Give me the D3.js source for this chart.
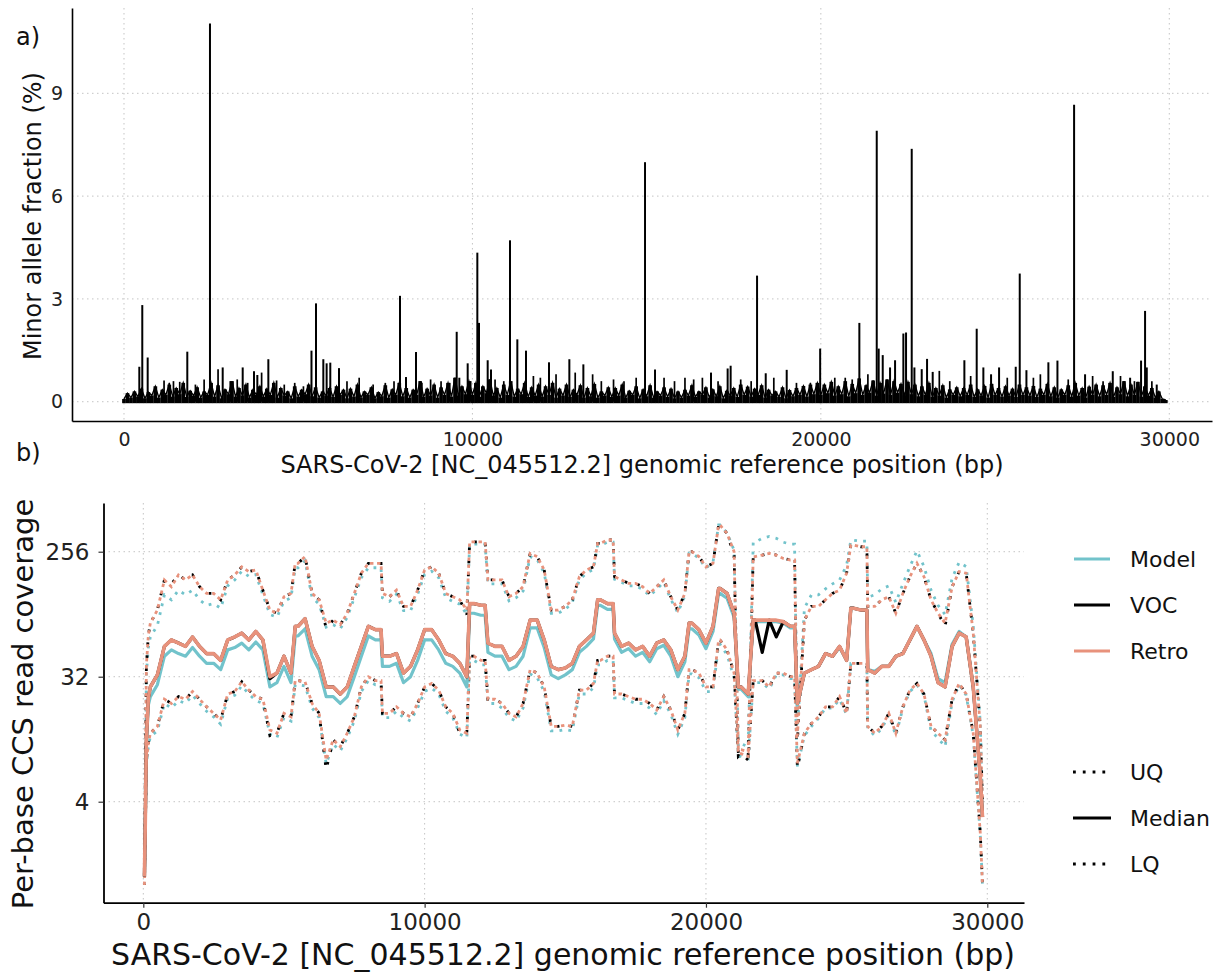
<!DOCTYPE html>
<html><head><meta charset="utf-8">
<script src="https://cdn.jsdelivr.net/npm/d3@7"></script>
<style>
body{margin:0;background:#fff;}
svg{display:block;font-family:"DejaVu Sans",sans-serif;}
</style></head><body>
<svg id="c" width="1215" height="976"></svg>
<script>
// ---------------- Panel a data ----------------
const mafXTicks = [0, 10000, 20000, 30000];
const mafYTicks = [0, 3, 6, 9];
// background minor allele fraction (%) every 100 bp from 0 bp
const mafBackground = [
 0.08,0.25,0.12,0.3,0.15,0.38,0.1,0.28,0.18,0.45,0.12,0.35,0.2,0.5,0.15,0.4,0.22,0.55,0.14,0.32,
 0.18,0.42,0.12,0.3,0.2,0.55,0.15,0.48,0.1,0.36,0.22,0.6,0.15,0.4,0.18,0.5,0.12,0.35,0.2,0.45,
 0.15,0.38,0.2,0.55,0.12,0.4,0.18,0.3,0.1,0.45,0.15,0.35,0.22,0.5,0.16,0.42,0.12,0.3,0.18,0.4,
 0.14,0.45,0.2,0.35,0.1,0.38,0.15,0.5,0.12,0.3,0.2,0.42,0.1,0.28,0.16,0.48,0.12,0.36,0.2,0.55,
 0.16,0.4,0.12,0.35,0.2,0.6,0.14,0.38,0.18,0.5,0.12,0.42,0.2,0.55,0.15,0.7,0.18,0.45,0.22,0.6,
 0.2,0.55,0.15,0.45,0.25,0.65,0.18,0.4,0.12,0.5,0.2,0.6,0.15,0.38,0.22,0.55,0.14,0.42,0.18,0.5,
 0.15,0.45,0.2,0.55,0.12,0.38,0.18,0.5,0.14,0.35,0.2,0.48,0.12,0.4,0.16,0.52,0.12,0.3,0.18,0.42,
 0.14,0.4,0.18,0.5,0.12,0.32,0.2,0.45,0.1,0.36,0.16,0.48,0.12,0.3,0.18,0.42,0.14,0.38,0.1,0.3,
 0.12,0.35,0.18,0.48,0.14,0.3,0.2,0.42,0.12,0.36,0.16,0.45,0.1,0.32,0.18,0.4,0.14,0.5,0.2,0.44,
 0.15,0.38,0.2,0.48,0.12,0.35,0.18,0.3,0.14,0.42,0.1,0.34,0.16,0.4,0.2,0.46,0.15,0.5,0.22,0.55,
 0.2,0.5,0.25,0.58,0.18,0.45,0.22,0.6,0.16,0.52,0.25,0.68,0.2,0.48,0.26,0.62,0.18,0.55,0.24,0.65,
 0.2,0.6,0.26,0.52,0.18,0.58,0.22,0.5,0.16,0.45,0.2,0.55,0.14,0.4,0.18,0.48,0.12,0.36,0.2,0.42,
 0.16,0.4,0.2,0.5,0.14,0.36,0.18,0.46,0.12,0.52,0.2,0.4,0.15,0.45,0.18,0.38,0.14,0.5,0.2,0.42,
 0.18,0.46,0.14,0.38,0.2,0.52,0.16,0.42,0.12,0.36,0.2,0.48,0.15,0.55,0.18,0.4,0.12,0.44,0.2,0.5,
 0.16,0.48,0.2,0.55,0.14,0.42,0.22,0.6,0.16,0.5,0.2,0.58,0.15,0.45,0.18,0.4,0.12,0.3,0.08,0.05
];
const mafBackgroundPos = d3.range(0, 30000, 100);
// [position, minor allele fraction %] – visible peaks
const mafSpikes = [
 [440,1.02],[525,2.82],[680,1.29],[1817,1.46],[2468,11.04],[2833,1.0],[3407,1.0],[3731,0.89],[3827,0.78],
 [4143,1.24],[5381,1.49],[5511,2.87],[5721,1.24],[5816,1.12],[5921,1.14],[6171,0.98],[7922,3.09],[8094,0.72],
 [8381,1.45],[9549,2.04],[9624,0.7],[9864,1.12],[10141,4.35],[10189,2.3],[10438,1.21],[10534,0.94],[11079,4.71],
 [11289,1.82],[11538,1.49],[12198,1.15],[12782,1.24],[13184,1.09],[14954,6.99],[15241,0.94],[16848,0.85],
 [17325,0.97],[17411,1.05],[18169,3.68],[18418,0.83],[19020,0.93],[19980,1.55],[21105,2.3],[21604,7.91],
 [21660,1.55],[21776,1.36],[21986,1.0],[22130,1.21],[22368,1.99],[22445,2.02],[22608,7.38],[22685,1.0],
 [22895,0.95],[23048,1.25],[23210,0.87],[24119,1.21],[24473,2.13],[24664,1.0],[24885,0.8],[25115,1.0],
 [25593,1.02],[25708,3.74],[25900,0.92],[26530,1.15],[26790,1.2],[27268,8.67],[27583,0.8],[28378,0.89],
 [28876,0.7],[29190,1.2],[29305,2.65],[29354,1.0],[29640,0.5]
];
// smaller needles above the noise band
const mafSmallSpikes = [
 [1150,0.62],[1300,0.55],[1420,0.6],[1600,0.58],[2050,0.5],[2300,0.65],[2700,0.95],[3050,0.6],[3250,0.65],
 [3550,0.55],[3950,0.85],[4380,0.62],[4600,0.5],[4900,0.55],[5150,0.45],[6400,0.6],[6750,0.7],[7150,0.5],
 [7500,0.55],[7750,0.6],[8550,0.55],[8800,0.65],[9100,0.6],[9350,0.55],[9950,0.6],[10650,0.65],[10900,0.6],
 [11750,0.75],[11950,0.7],[12400,0.8],[12950,0.85],[13450,0.8],[13700,0.6],[14050,0.65],[14350,0.6],[14700,0.7],
 [15500,0.7],[15800,0.6],[16100,0.7],[16350,0.65],[16600,0.7],[17050,0.6],[17700,0.65],[18000,0.6],[18650,0.7],
 [19300,0.55],[19700,0.55],[20400,0.7],[20700,0.7],[20900,0.65],[21350,0.8],[23400,0.9],[23700,0.6],[24300,0.75],
 [25350,0.7],[26100,0.7],[26300,0.8],[27100,0.65],[27800,0.75],[28100,0.6],[28600,0.75],[29000,0.6],[29500,0.6]
];

// ---------------- Panel b data ----------------
const covXTicks = [0, 10000, 20000, 30000];
const covYTicks = [4, 32, 256];
const covPos = [40, 70, 110, 180, ...d3.range(250, 30000, 250), 29830];

const retroMedian = [1.15,2.8,11.3,22.6,
 27,33,53,59,56,53,62,53,47,47,42,59,62,66,59,68,
 59,32,34,45,34,74,84,53,42,27,27,24,27,38,53,74,
 70,45,45,47,34,38,50,70,70,59,47,45,40,32,108,105,
 56,53,53,42,45,53,82,82,59,38,36,37,40,53,59,66,
 115,108,66,53,56,50,53,45,56,59,50,36,45,78,70,56,
 74,139,128,92,27,24,82,82,82,82,80,74,20.5,34,36,38,
 47,45,53,42,100,97,36,34,38,38,45,47,59,74,59,45,
 29,27,53,66,62,27,6.1,
 3.1];
const retroUQ = [1.41,5.7,39,64,
 78,97,160,143,174,160,174,143,128,128,115,160,174,199,184,189,
 135,97,92,121,128,211,236,128,115,78,82,76,92,128,179,211,
 211,128,121,135,103,103,135,189,199,179,128,121,115,97,302,302,
 160,160,160,121,128,143,249,236,189,97,97,103,115,169,189,199,
 294,311,169,160,151,151,143,128,143,160,121,97,128,256,236,199,
 211,399,347,256,9.5,9.2,236,242,249,242,229,223,12,82,103,103,
 115,128,135,179,286,278,103,103,115,121,92,128,169,211,169,115,
 92,78,143,184,179,66,14,
 4];
const retroLQ = [1.0,2.3,8,10.6,
 12.5,14,22,20.5,23,22,25,22,19.4,17.4,15.6,24,25,29.4,25.6,23,
 22,13.2,12.5,17.4,16.4,30,29.4,20.5,17.4,8,11.2,10,12.5,16.4,27,32,
 30,17.4,17.4,19.4,17.4,16.4,20.5,27,28.6,25.6,19.4,17.4,13.2,12.5,45,42,
 22,22,20.5,17.4,16.4,20.5,36,34,27,14,14,14.3,14,25.6,25.6,28.6,
 42,45,24,24,23,22,22,20.5,18.4,23,18.4,13.2,17.4,36,34,27,
 27,59,50,34,8.9,8.5,30,30,27,34,34,32,7.6,12.5,14.7,16.4,
 19.4,19.4,23,17.4,40,40,14,12.5,14,17.4,12.5,19.4,25.6,28.6,24,14,
 12.5,11.2,22,28.6,24,12.5,2.4,
 1.0];

const modelMedian = [1.15,2.7,10.5,20,
 23,28,45,50,47,45,52,45,40,40,36,50,52,56,50,57,
 50,27,29,38,29,63,71,45,36,23,23,20.5,23,32,45,63,
 59,38,38,40,29,32,42,59,59,50,40,38,34,27,92,89,
 48,45,45,36,38,45,72,72,52,33,31,33,36,48,53,60,
 105,98,60,48,51,45,48,41,51,54,45,32,41,71,64,51,
 68,128,118,86,26,23,80,80,80,80,78,72,20,34,36,38,
 47,45,52,42,100,97,36,35,38,38,45,47,59,74,59,47,
 31,29,55,68,62,27,6.1,
 3.1];
const modelUQ = [1.41,5.5,34,52,
 62,75,125,115,135,125,135,115,105,108,100,145,160,185,170,175,
 125,90,86,112,119,196,220,119,107,73,76,71,86,119,166,196,
 196,119,112,126,96,96,126,176,185,166,119,112,107,90,290,290,
 150,150,150,113,119,133,236,225,180,92,92,98,110,160,180,190,
 285,300,162,154,145,145,137,123,137,154,116,93,123,250,230,195,
 215,400,350,262,10.5,10,300,320,330,320,300,290,13,100,125,125,
 138,150,160,205,310,305,120,125,138,145,110,150,200,260,200,135,
 105,90,165,215,200,75,15,
 4];
const modelLQ = [1.0,2.2,7.5,10,
 11.8,13,20.5,19,21.5,20.5,23.5,20.5,18,16.4,14.5,22.5,23.5,27.5,24,21.5,
 20.5,12.3,11.6,16.2,15.3,28,27.5,19,16.2,7.5,10.4,9.3,11.6,15.3,25,30,
 28,16.2,16.2,18,16.2,15.3,19,25,26.5,24,18,16.2,12.3,11.6,42,39,
 20.5,20.5,19,16.2,15.3,19,33.5,31.5,25,13,13,13.3,13,24,24,26.5,
 39,42,22.5,22.5,21.5,20.5,20.5,19,17.1,21.5,17.1,12.3,16.2,33.5,31.5,25,
 25,55,46,31.5,8.5,8.2,29,29,26,33,33,31,7.2,12,14,16,
 19,19,22,17,40,40,13.5,12,13.5,17,12,19,25,28,23.5,13,
 11.5,10,21,28,23.5,12,2.3,
 1.0];

const vocMedian = [1.15,2.8,11.3,22.6,
 27,33,53,59,56,53,62,53,47,47,42,59,62,66,59,68,
 59,31,34,45,34,74,84,53,42,27,27,24,27,38,53,74,
 70,45,45,47,34,38,50,70,70,59,47,45,40,32,108,105,
 56,53,53,42,45,53,82,82,59,38,36,37,40,53,59,66,
 115,108,66,53,56,50,53,45,56,59,50,36,45,78,70,56,
 74,139,128,92,27,24,82,48,82,62,80,74,20.5,34,36,38,
 47,45,53,42,100,97,36,34,38,38,45,47,59,74,59,45,
 29,27,53,66,62,27,6.1,
 3.1];
const vocUQ = [1.41,5.7,39,64,
 78,97,160,150,174,160,174,143,128,128,115,160,174,199,184,189,
 135,97,92,121,128,211,236,128,115,72,82,76,92,128,179,211,
 211,128,121,135,103,103,135,189,199,179,128,121,115,90,302,302,
 160,160,160,121,128,143,249,236,189,97,97,103,115,169,189,199,
 294,311,169,160,151,151,143,128,143,160,121,97,128,256,236,199,
 211,399,347,240,9,8.6,236,242,249,242,229,223,11,82,103,103,
 115,128,135,179,286,278,103,103,115,121,92,128,169,211,169,115,
 92,74,143,184,179,66,14,
 4];
const vocLQ = [1.0,2.3,8,10.6,
 12.5,14,22,20.5,23,22,25,22,19.4,17.4,15.6,24,25,29.4,25.6,23,
 22,12,12.5,17.4,16.4,30,29.4,20.5,17.4,6.8,11.2,10,12.5,16.4,27,32,
 30,17.4,17.4,19.4,17.4,16.4,20.5,27,28.6,25.6,19.4,17.4,12.5,12.5,45,42,
 22,22,20.5,17.4,16.4,20.5,36,34,27,14,14,14.3,14,25.6,25.6,28.6,
 42,45,24,24,23,22,22,20.5,18.4,23,18.4,13.2,17.4,36,34,27,
 27,59,50,34,8.9,8,30,30,27,34,34,32,7,12.5,14.7,16.4,
 19.4,19.4,23,17.4,40,40,14,12.5,14,17.4,12.5,19.4,25.6,28.6,24,14,
 12.5,11.2,22,28.6,24,12.5,2.4,
 1.0];

// extra samples at amplicon step edges
const stepPos = [5400, 8450, 11600, 12150, 16150, 16700, 19400, 20450, 21150, 21680, 23150, 25150, 25720];
const retroMedianStep = [74, 70, 108, 105, 115, 108, 78, 139, 27, 82, 74, 100, 97];
const retroUQStep     = [211, 211, 302, 302, 294, 311, 256, 399, 9.5, 236, 223, 286, 278];
const retroLQStep     = [30, 30, 45, 42, 42, 45, 36, 59, 8.9, 30, 32, 40, 40];
const modelMedianStep = [63, 59, 92, 89, 105, 98, 71, 128, 26, 80, 72, 100, 97];
const modelUQStep     = [196, 196, 290, 290, 285, 300, 250, 400, 10, 300, 290, 310, 305];
const modelLQStep     = [28, 28, 42, 39, 39, 42, 33.5, 55, 8.5, 29, 31, 40, 40];
const vocMedianStep   = [74, 70, 108, 105, 115, 108, 78, 139, 27, 82, 74, 100, 97];
const vocUQStep       = [211, 211, 302, 302, 294, 311, 256, 399, 9, 236, 223, 286, 278];
const vocLQStep       = [30, 30, 45, 42, 42, 45, 36, 59, 8.5, 30, 32, 40, 40];

const seriesNames = ["Model", "VOC", "Retro"];
const seriesColors = ["#72c3cb", "#000000", "#e8927c"];
const quantileNames = ["UQ", "Median", "LQ"];

// ---------------- drawing ----------------
const svg = d3.select("#c");
const gridStyle = s => s.attr("stroke", "#c4c4c4").attr("stroke-width", 1).attr("stroke-dasharray", "1.5,3.5");

// ===== Panel a =====
const xA = d3.scaleLinear().domain([-1492, 31226]).range([72, 1212]);
const yA = d3.scaleLinear().domain([-0.563, 11.49]).range([421, 8]);
const gA = svg.append("g");
gA.selectAll(".gx").data(mafXTicks).join("line")
  .attr("x1", d => xA(d)).attr("x2", d => xA(d)).attr("y1", 8).attr("y2", 421).call(gridStyle);
gA.selectAll(".gy").data(mafYTicks).join("line")
  .attr("x1", 72).attr("x2", 1212).attr("y1", d => yA(d)).attr("y2", d => yA(d)).call(gridStyle);

const bgData = mafBackground.map((v, i) => [mafBackgroundPos[i], v]);
gA.append("g").selectAll("line").data(bgData).join("line")
  .attr("x1", d => xA(d[0])).attr("x2", d => xA(d[0]))
  .attr("y1", yA(0) + 1.5).attr("y2", d => yA(d[1]))
  .attr("stroke", "#000").attr("stroke-width", 3.7);
gA.append("path").datum(bgData)
  .attr("d", d3.line().x(d => xA(d[0])).y(d => yA(d[1])))
  .attr("fill", "none").attr("stroke", "#000").attr("stroke-width", 1.4);
gA.append("g").selectAll("line").data(mafSmallSpikes).join("line")
  .attr("x1", d => xA(d[0])).attr("x2", d => xA(d[0]))
  .attr("y1", yA(0)).attr("y2", d => yA(d[1]))
  .attr("stroke", "#000").attr("stroke-width", 1.7);
gA.append("g").selectAll("line").data(mafSpikes).join("line")
  .attr("x1", d => xA(d[0])).attr("x2", d => xA(d[0]))
  .attr("y1", yA(0) + 1).attr("y2", d => yA(d[1]))
  .attr("stroke", "#000").attr("stroke-width", 2);

const axA_x = gA.append("g").attr("transform", "translate(0,421)")
  .call(d3.axisBottom(xA).tickValues(mafXTicks).tickSize(0).tickSizeOuter(0).tickPadding(11.5).tickFormat(d3.format("d")));
const axA_y = gA.append("g").attr("transform", "translate(72,0)")
  .call(d3.axisLeft(yA).tickValues(mafYTicks).tickSize(0).tickSizeOuter(0).tickPadding(9).tickFormat(d3.format("d")));
[axA_x, axA_y].forEach(a => {
  a.select(".domain").attr("stroke", "#000").attr("stroke-width", 1.6);
  a.selectAll("text").attr("font-size", 19).attr("fill", "#222").attr("font-family", "DejaVu Sans");
});
gA.append("text").attr("x", 642).attr("y", 473).attr("text-anchor", "middle")
  .attr("font-size", 24).attr("fill", "#111").text("SARS-CoV-2 [NC_045512.2] genomic reference position (bp)");
gA.append("text").attr("transform", "translate(41,216) rotate(-90)").attr("text-anchor", "middle")
  .attr("font-size", 24).attr("fill", "#111").text("Minor allele fraction (%)");
svg.append("text").attr("x", 16).attr("y", 45).attr("font-size", 24).attr("fill", "#111").text("a)");
svg.append("text").attr("x", 16).attr("y", 461).attr("font-size", 24).attr("fill", "#111").text("b)");

// ===== Panel b =====
const xB = d3.scaleLinear().domain([-1415, 31305]).range([103.5, 1024]);
const yB = d3.scaleLog().base(2).domain([0.7455, 575.7]).range([902.7, 503]);
const gB = svg.append("g");
gB.selectAll(".gx").data(covXTicks).join("line")
  .attr("x1", d => xB(d)).attr("x2", d => xB(d)).attr("y1", 503).attr("y2", 902.7).call(gridStyle);
gB.selectAll(".gy").data(covYTicks).join("line")
  .attr("x1", 103.5).attr("x2", 1024).attr("y1", d => yB(d)).attr("y2", d => yB(d)).call(gridStyle);

const mergeSeries = (base, extra) =>
  covPos.map((p, i) => [p, base[i]]).concat(stepPos.map((p, i) => [p, extra[i]])).sort((a, b) => a[0] - b[0]);
const covLine = d3.line().x(d => xB(d[0])).y(d => yB(d[1]));
const seriesData = [
  {uq: mergeSeries(modelUQ, modelUQStep), med: mergeSeries(modelMedian, modelMedianStep), lq: mergeSeries(modelLQ, modelLQStep)},
  {uq: mergeSeries(vocUQ, vocUQStep), med: mergeSeries(vocMedian, vocMedianStep), lq: mergeSeries(vocLQ, vocLQStep)},
  {uq: mergeSeries(retroUQ, retroUQStep), med: mergeSeries(retroMedian, retroMedianStep), lq: mergeSeries(retroLQ, retroLQStep)}
];
const dashPat = ["2.8,6.2", "2.6,10.4", "3.4,3.6"];
const dashOff = [0, 1.5, 0];
seriesData.forEach((s, k) => {
  const g = gB.append("g");
  [s.uq, s.lq].forEach(arr => {
    g.append("path").datum(arr).attr("d", covLine).attr("fill", "none")
      .attr("stroke", seriesColors[k]).attr("stroke-width", 2.8)
      .attr("stroke-dasharray", dashPat[k]).attr("stroke-dashoffset", dashOff[k]);
  });
});
seriesData.forEach((s, k) => {
  gB.append("path").datum(s.med).attr("d", covLine).attr("fill", "none")
    .attr("stroke", seriesColors[k]).attr("stroke-width", k === 2 ? 3.6 : 3.2)
    .attr("stroke-linejoin", "round");
});

const axB_x = gB.append("g").attr("transform", "translate(0,902.7)")
  .call(d3.axisBottom(xB).tickValues(covXTicks).tickSize(5).tickSizeOuter(0).tickPadding(6).tickFormat(d3.format("d")));
const axB_y = gB.append("g").attr("transform", "translate(103.5,0)")
  .call(d3.axisLeft(yB).tickValues(covYTicks).tickSize(5).tickSizeOuter(0).tickPadding(9).tickFormat(d3.format("d")));
[axB_x, axB_y].forEach(a => {
  a.select(".domain").attr("stroke", "#000").attr("stroke-width", 1.8);
  a.selectAll(".tick line").attr("stroke", "#333").attr("stroke-width", 1.2);
  a.selectAll("text").attr("font-size", 23).attr("fill", "#222").attr("font-family", "DejaVu Sans");
});
gB.append("text").attr("x", 563).attr("y", 965).attr("text-anchor", "middle")
  .attr("font-size", 30).attr("fill", "#111").text("SARS-CoV-2 [NC_045512.2] genomic reference position (bp)");
gB.append("text").attr("transform", "translate(33,704) rotate(-90)").attr("text-anchor", "middle")
  .attr("font-size", 29).attr("fill", "#111").text("Per-base CCS read coverage");

// legends
const legY1 = [559, 605, 651];
const lg = svg.append("g");
seriesNames.forEach((n, i) => {
  lg.append("line").attr("x1", 1074).attr("x2", 1110).attr("y1", legY1[i]).attr("y2", legY1[i])
    .attr("stroke", seriesColors[i]).attr("stroke-width", 3);
  lg.append("text").attr("x", 1130).attr("y", legY1[i] + 8).attr("font-size", 22).attr("fill", "#111").text(n);
});
const legY2 = [772, 818, 864];
quantileNames.forEach((n, i) => {
  lg.append("line").attr("x1", 1073).attr("x2", 1111).attr("y1", legY2[i]).attr("y2", legY2[i])
    .attr("stroke", "#000").attr("stroke-width", 3)
    .attr("stroke-dasharray", n === "Median" ? null : "2.8,7");
  lg.append("text").attr("x", 1130).attr("y", legY2[i] + 8).attr("font-size", 22).attr("fill", "#111").text(n);
});
</script></body></html>
